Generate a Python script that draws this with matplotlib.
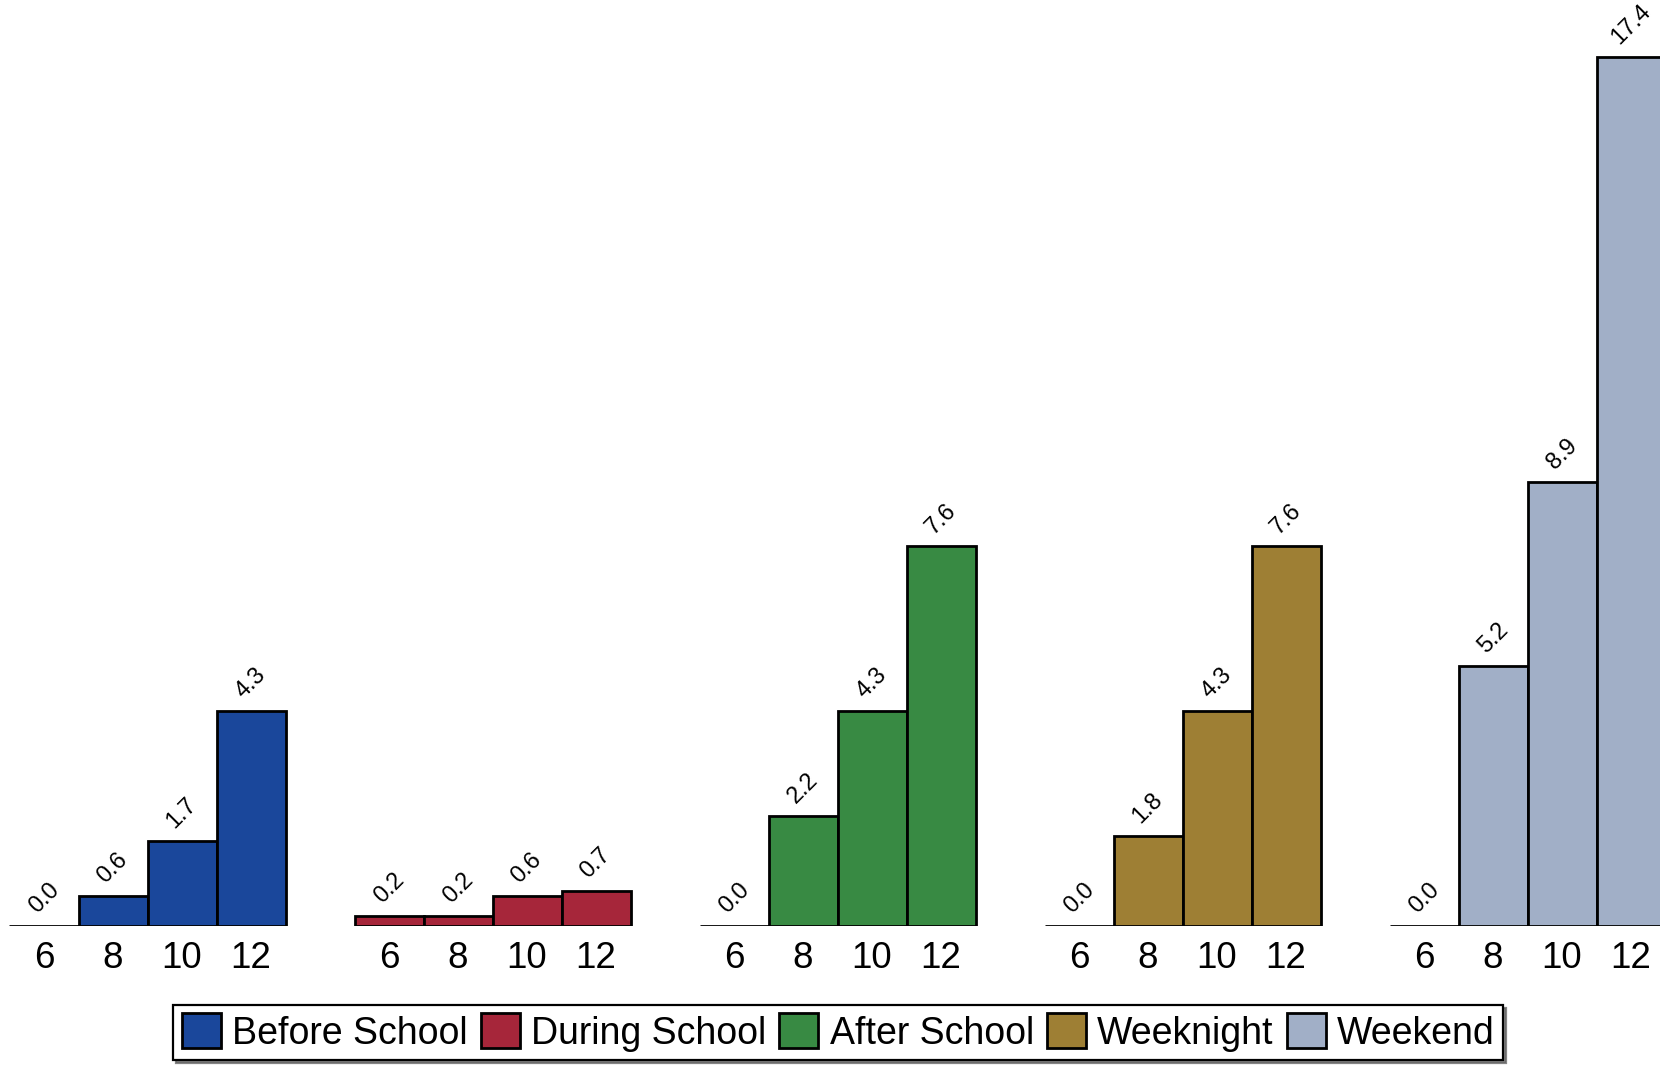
import numpy as np
import matplotlib
matplotlib.use("Agg")
import matplotlib.pyplot as plt
from matplotlib.patches import Patch

plt.rcParams['font.family'] = ['Liberation Sans', 'DejaVu Sans']

# data
ages = ["6", "8", "10", "12"]
periods = ["Before School", "During School", "After School", "Weeknight", "Weekend"]
before_school = [0.0, 0.6, 1.7, 4.3]
during_school = [0.2, 0.2, 0.6, 0.7]
after_school = [0.0, 2.2, 4.3, 7.6]
weeknight = [0.0, 1.8, 4.3, 7.6]
weekend = [0.0, 5.2, 8.9, 17.4]
values = [before_school, during_school, after_school, weeknight, weekend]
colors = ["#1a479b", "#a6263a", "#388a43", "#9e7f34", "#a1afc7"]

fig = plt.figure(figsize=(16.6, 10.65), dpi=100)
# axes fills the width, bottom of axes = baseline of bars
base_px = 926
ax = fig.add_axes([0, (1065 - base_px) / 1065, 1, base_px / 1065])

unit_px = 69.0
left = -0.5 - 9.5 / unit_px
ax.set_xlim(left, left + 1660 / unit_px)
ax.set_ylim(0, base_px / 49.94)

tick_pos = []
tick_lab = []
for g in range(len(periods)):
    x = np.arange(len(ages)) + g * 5
    ax.bar(x, values[g], width=1, color=colors[g], edgecolor="black", linewidth=2, zorder=2)
    for xi, v in zip(x, values[g]):
        ax.annotate("%.1f" % v, (xi, v), xytext=(0, 6), textcoords="offset points",
                    ha="center", va="bottom", rotation=45, fontsize=17)
    tick_pos += list(x)
    tick_lab += ages

ax.set_xticks(tick_pos)
ax.set_xticklabels(tick_lab, fontsize=26.5)
ax.tick_params(axis="x", length=0, pad=10.5)
ax.set_yticks([])
for s in ax.spines.values():
    s.set_visible(False)

# legend
handles = [Patch(facecolor=c, edgecolor="black", linewidth=2) for c in colors]
leg = fig.legend(handles, periods, loc="center", bbox_to_anchor=(0.505, 0.0305), ncol=5,
                 fontsize=27, frameon=True, fancybox=False, edgecolor="black",
                 handlelength=1.04, handleheight=1.04, handletextpad=0.3,
                 columnspacing=0.35, borderpad=0.22,
                 shadow={"color": "0.4", "alpha": 0.8})
leg.get_frame().set_linewidth(1.6)

fig.savefig("out.png", dpi=100)
